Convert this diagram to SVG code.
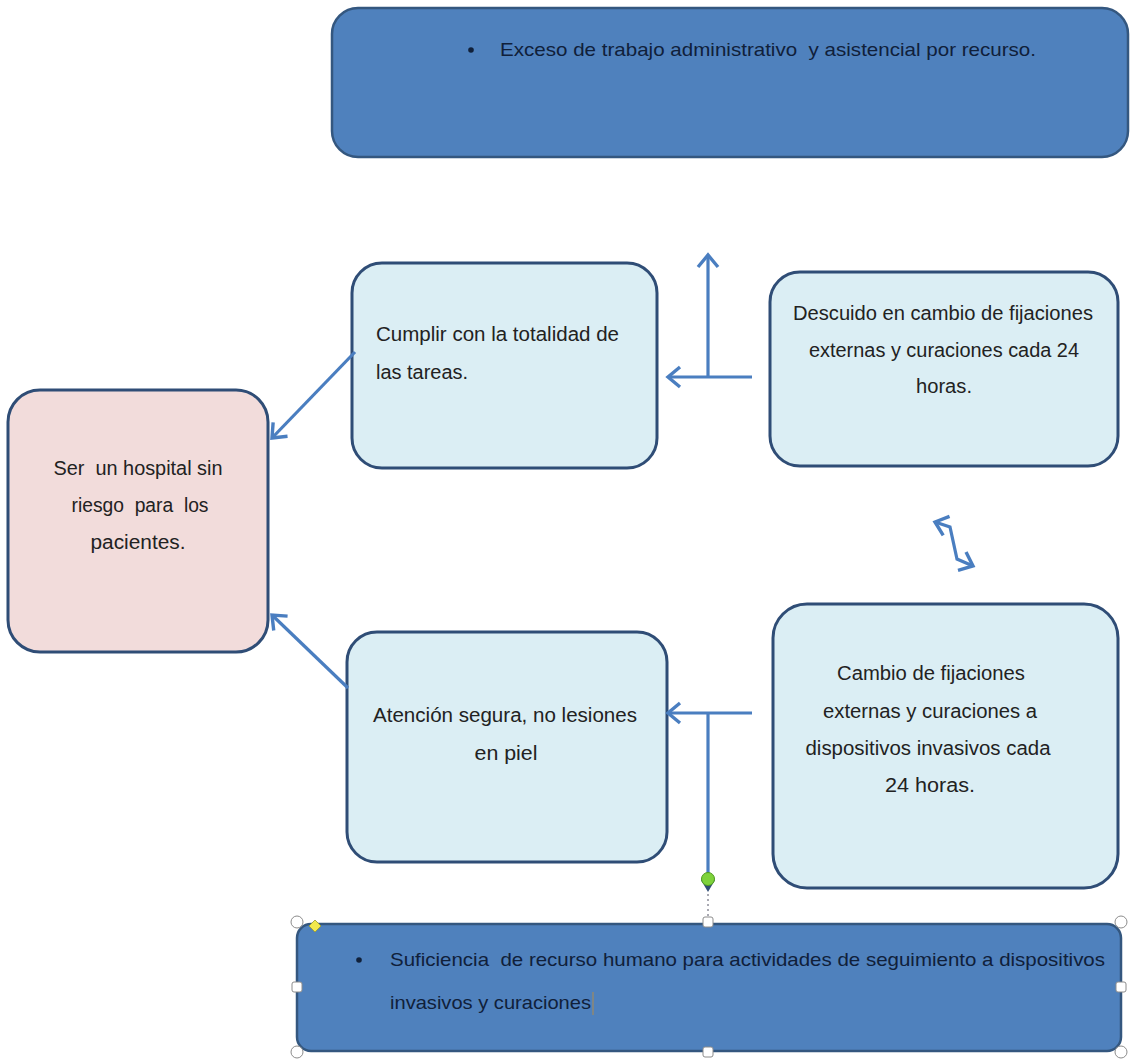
<svg xmlns="http://www.w3.org/2000/svg" width="1131" height="1060" viewBox="0 0 1131 1060">
<style>
  .dark{fill:#4f81bd;stroke:#34577f;stroke-width:2.5}
  .light{fill:#dbeef4;stroke:#2f4d76;stroke-width:3}
  .pink{fill:#f2dcdb;stroke:#2f4d76;stroke-width:3}
  text{font-family:"Liberation Sans","Open Sans",sans-serif;font-size:20px;fill:#222;white-space:pre}
  .c{text-anchor:middle}
  .wt{font-size:19px;fill:#10203a}
  .conn{stroke:#4a7ec0;stroke-width:3.2;fill:none}
  .h{fill:#fff;stroke:#8c8c8c;stroke-width:1}
</style>
<defs>
  <marker id="ah" markerUnits="userSpaceOnUse" markerWidth="26" markerHeight="26" refX="17" refY="13" orient="auto-start-reverse" viewBox="0 0 26 26">
    <path d="M5,3 L17,13 L5,23" fill="none" stroke="#4a7ec0" stroke-width="3.4"/>
  </marker>
</defs>

<g id="node-exceso">
  <rect x="332" y="8" width="796" height="149" rx="26" class="dark"/>
  <circle cx="471" cy="50" r="2.8" fill="#10203a"/>
  <text x="500" y="56" class="wt" textLength="536" lengthAdjust="spacingAndGlyphs">Exceso de trabajo administrativo  y asistencial por recurso.</text>
</g>

<g id="node-cumplir">
  <rect x="352" y="263" width="305" height="205" rx="30" class="light"/>
  <text x="376" y="341" textLength="243" lengthAdjust="spacingAndGlyphs">Cumplir con la totalidad de</text>
  <text x="376" y="379" textLength="92" lengthAdjust="spacingAndGlyphs">las tareas.</text>
</g>

<g id="node-descuido">
  <rect x="770" y="272" width="348" height="194" rx="30" class="light"/>
  <text x="943" y="320" class="c" textLength="300" lengthAdjust="spacingAndGlyphs">Descuido en cambio de fijaciones</text>
  <text x="944" y="357" class="c" textLength="270" lengthAdjust="spacingAndGlyphs">externas y curaciones cada 24</text>
  <text x="944" y="393" class="c" textLength="56" lengthAdjust="spacingAndGlyphs">horas.</text>
</g>

<g id="node-hospital">
  <rect x="8" y="390" width="260" height="262" rx="32" class="pink"/>
  <text x="138" y="475" class="c" textLength="169" lengthAdjust="spacingAndGlyphs">Ser  un hospital sin</text>
  <text x="140" y="512" class="c" textLength="137" lengthAdjust="spacingAndGlyphs">riesgo  para  los</text>
  <text x="138" y="549" class="c" textLength="95" lengthAdjust="spacingAndGlyphs">pacientes.</text>
</g>

<g id="node-atencion">
  <rect x="347" y="632" width="320" height="230" rx="30" class="light"/>
  <text x="505" y="722" class="c" textLength="264" lengthAdjust="spacingAndGlyphs">Atención segura, no lesiones</text>
  <text x="506" y="760" class="c" textLength="63" lengthAdjust="spacingAndGlyphs">en piel</text>
</g>

<g id="node-cambio">
  <rect x="773" y="604" width="345" height="284" rx="34" class="light"/>
  <text x="931" y="680" class="c" textLength="188" lengthAdjust="spacingAndGlyphs">Cambio de fijaciones</text>
  <text x="930" y="718" class="c" textLength="214" lengthAdjust="spacingAndGlyphs">externas y curaciones a</text>
  <text x="928" y="755" class="c" textLength="245" lengthAdjust="spacingAndGlyphs">dispositivos invasivos cada</text>
  <text x="930" y="792" class="c" textLength="90" lengthAdjust="spacingAndGlyphs">24 horas.</text>
</g>

<g id="node-suficiencia">
  <rect x="297" y="924" width="824" height="127" rx="14" class="dark"/>
  <circle cx="359" cy="960" r="2.8" fill="#10203a"/>
  <text x="390" y="966" class="wt" textLength="715" lengthAdjust="spacingAndGlyphs">Suficiencia  de recurso humano para actividades de seguimiento a dispositivos</text>
  <text x="390" y="1009" class="wt" textLength="201" lengthAdjust="spacingAndGlyphs">invasivos y curaciones</text>
  <line x1="593" y1="992" x2="593" y2="1015" stroke="#a08a60" stroke-width="1.2"/>
  <line x1="708" y1="894" x2="708" y2="917" stroke="#556" stroke-width="1" stroke-dasharray="2,3"/>
  <circle cx="297" cy="922" r="6" class="h"/>
  <circle cx="1121" cy="922" r="6" class="h"/>
  <circle cx="297" cy="1052" r="6" class="h"/>
  <circle cx="1121" cy="1052" r="6" class="h"/>
  <rect x="703" y="917" width="10" height="10" rx="2" class="h"/>
  <rect x="703" y="1047" width="10" height="10" rx="2" class="h"/>
  <rect x="292" y="982" width="10" height="10" rx="2" class="h"/>
  <rect x="1116" y="982" width="10" height="10" rx="2" class="h"/>
  <path d="M315,920 L321,926 L315,932 L309,926 Z" fill="#f2e94e" stroke="#9a9a30" stroke-width="0.8"/>
</g>

<g id="connectors">
  <line x1="752" y1="377" x2="668" y2="377" class="conn" marker-end="url(#ah)"/>
  <line x1="708" y1="377" x2="708" y2="255" class="conn" marker-end="url(#ah)"/>
  <line x1="355" y1="352" x2="272" y2="438" class="conn" marker-end="url(#ah)"/>
  <line x1="348" y1="688" x2="272" y2="615" class="conn" marker-end="url(#ah)"/>
  <line x1="752" y1="713" x2="668" y2="713" class="conn" marker-end="url(#ah)"/>
  <line x1="708" y1="713" x2="708" y2="878" class="conn"/>
  <path d="M701,880 L715,880 L708,892 Z" fill="#2f4d76"/>
  <circle cx="708" cy="879" r="6.5" fill="#7ed23b" stroke="#4e9a20" stroke-width="1"/>
  <path d="M935,522 L950,527 L957,559 L973,566" class="conn" marker-start="url(#ah)" marker-end="url(#ah)"/>
</g>
</svg>
